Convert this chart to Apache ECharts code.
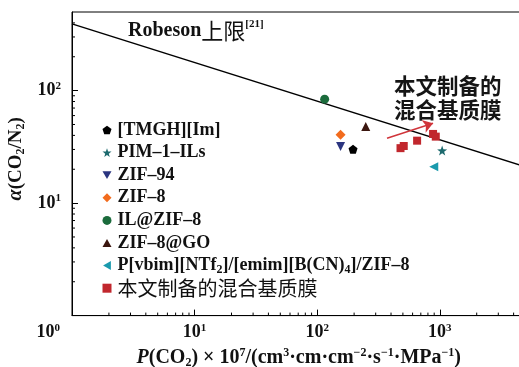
<!DOCTYPE html>
<html>
<head>
<meta charset="utf-8">
<script src="https://cdn.jsdelivr.net/npm/echarts@6/dist/echarts.min.js"></script>
<style>
html,body{margin:0;padding:0;background:#fff;}
#c{width:519px;height:367px;}
</style>
</head>
<body>
<div id="c"></div>
<script>
// ---------- data ----------
var seriesNames = ['[TMGH][Im]', 'PIM–1–ILs', 'ZIF–94', 'ZIF–8', 'IL@ZIF–8', 'ZIF–8@GO', 'P[vbim][NTf2]/[emim][B(CN)4]/ZIF–8', '本文制备的混合基质膜'];
var tmgh = [[196, 30.1]];
var pim = [[1045, 29.3]];
var zif94 = [[155, 31.8]];
var zif8 = [[155, 40.6]];
var ilzif8 = [[115, 84]];
var zif8go = [[249, 47.9]];
var pvbim = [[893, 21.1]];
var thisWork = [[478, 30.8], [508, 32.2], [653, 35.9], [881, 41.2], [927, 39.0]];
var robesonBound = [[1, 392], [5000, 21]];
var arrowFrom = [371, 37.7];
var arrowTo = [881, 51.3];
var xMinorTicks = [2,3,4,5,6,7,8,9,20,30,40,50,60,70,80,90,200,300,400,500,600,700,800,900,2000,3000,4000];
var yMinorTicks = [2,3,4,5,6,7,8,9,20,30,40,50,60,70,80,90,200,300,400];
var xRange = [1, 5000];
var yRange = [1, 500];

// ---------- styles ----------
var SERIF = "'Liberation Serif','Times New Roman',serif";
var CJK = "'Noto Sans CJK SC','Noto Sans CJK JP',sans-serif";
var pentagon = 'path://M0,-10 L9.51,-3.09 L5.88,8.09 L-5.88,8.09 L-9.51,-3.09 Z';
var star = 'path://M0,-10 L2.35,-3.24 L9.51,-3.09 L3.8,1.24 L5.88,8.09 L0,4 L-5.88,8.09 L-3.8,1.24 L-9.51,-3.09 L-2.35,-3.24 Z';
var triDown = 'path://M-10,-8.66 L10,-8.66 L0,8.66 Z';
var triUp = 'path://M-10,8.66 L10,8.66 L0,-8.66 Z';
var triLeft = 'path://M8.66,-10 L8.66,10 L-8.66,0 Z';

var symbols = [pentagon, star, triDown, 'diamond', 'circle', triUp, triLeft, 'rect'];
var colors = ['#000000', '#1d6a6e', '#2b3580', '#f26b1d', '#1b6b3c', '#3b160f', '#1a9aad', '#c1272d'];
var sizes = [9, 10, 9, 10, 9, 9, 9, 8];
var datasets = [tmgh, pim, zif94, zif8, ilzif8, zif8go, pvbim, thisWork];

function sup(v){ return '{b|10}{s|' + v + '}'; }
function expOf(v){ return Math.round(Math.log(v)/Math.LN10); }

var chart = echarts.init(document.getElementById('c'), null, {renderer:'canvas'});

var scatterSeries = seriesNames.map(function(n, i){
  return {
    name: n, type: 'scatter', data: datasets[i], symbol: symbols[i], symbolSize: sizes[i],
    itemStyle: {color: colors[i], opacity: 1}, z: 5
  };
});
scatterSeries[7].markLine = {
  silent: true, symbol: ['none', 'arrow'], symbolSize: 10,
  lineStyle: {color: '#d0343a', width: 1.4, type: 'solid'},
  label: {show: false},
  data: [[{coord: arrowFrom}, {coord: arrowTo}]]
};

var legendData = seriesNames.map(function(n, i){
  return {name: n, icon: symbols[i], itemStyle: {color: colors[i]}};
});

var option = {
  animation: false,
  backgroundColor: '#fff',
  grid: {left: 72, top: 12, width: 453.5, height: 303.6, outerBoundsMode: 'none', containLabel: false,
         show: true, borderColor: '#000', borderWidth: 1, backgroundColor: 'transparent'},
  xAxis: {
    type: 'log', logBase: 10, min: xRange[0], max: xRange[1],
    axisLine: {show: true, onZero: false, lineStyle: {color: '#000', width: 1}},
    axisTick: {show: true, inside: true, length: 6, lineStyle: {color: '#000'}},
    splitLine: {show: false},
    axisLabel: {
      margin: 7, showMaxLabel: false, alignMinLabel: 'right',
      formatter: function(v){ var e = expOf(v); return e === 0 ? '{b|10}{s0|0}' : sup(e); },
      rich: {
        b: {fontFamily: SERIF, fontSize: 18, fontWeight: 'bold', color: '#111', lineHeight: 20},
        s: {fontFamily: SERIF, fontSize: 11, fontWeight: 'bold', color: '#111', verticalAlign: 'top', lineHeight: 20},
        s0: {fontFamily: SERIF, fontSize: 11, fontWeight: 'bold', color: '#111', verticalAlign: 'top', lineHeight: 20, padding: [0, 12, 0, 0]}
      }
    },
    name: '{i|P}{t|(CO}{sub|2}{t|) × 10}{sup|7}{t|/(cm}{sup|3}{t|·cm·cm}{sup|−2}{t|·s}{sup|−1}{t|·MPa}{sup|−1}{t|)}',
    nameLocation: 'middle', nameGap: 24,
    nameTextStyle: {
      rich: {
        i: {fontFamily: SERIF, fontSize: 20, fontStyle: 'italic', fontWeight: 'bold', color: '#111', lineHeight: 22},
        t: {fontFamily: SERIF, fontSize: 20, fontWeight: 'bold', color: '#111', lineHeight: 22},
        sub: {fontFamily: SERIF, fontSize: 12, fontWeight: 'bold', color: '#111', verticalAlign: 'bottom', lineHeight: 22},
        sup: {fontFamily: SERIF, fontSize: 12, fontWeight: 'bold', color: '#111', verticalAlign: 'top', lineHeight: 22}
      }
    }
  },
  yAxis: {
    type: 'log', logBase: 10, min: yRange[0], max: yRange[1],
    axisLine: {show: true, onZero: false, lineStyle: {color: '#000', width: 1}},
    axisTick: {show: true, inside: true, length: 6, lineStyle: {color: '#000'}},
    splitLine: {show: false},
    axisLabel: {
      margin: 11, showMinLabel: false, showMaxLabel: false,
      formatter: function(v){ return sup(expOf(v)); },
      rich: {
        b: {fontFamily: SERIF, fontSize: 18, fontWeight: 'bold', color: '#111', lineHeight: 20},
        s: {fontFamily: SERIF, fontSize: 11, fontWeight: 'bold', color: '#111', verticalAlign: 'top', lineHeight: 20}
      }
    },
    name: '{a|α}{t|(CO}{sub|2}{t|/N}{sub|2}{t|)}',
    nameLocation: 'middle', nameGap: 42,
    nameTextStyle: {
      padding: [0, 0, 0, 10],
      rich: {
        a: {fontFamily: SERIF, fontSize: 20, fontStyle: 'italic', fontWeight: 'bold', color: '#111', lineHeight: 22},
        t: {fontFamily: SERIF, fontSize: 19, fontWeight: 'bold', color: '#111', lineHeight: 22},
        sub: {fontFamily: SERIF, fontSize: 12, fontWeight: 'bold', color: '#111', verticalAlign: 'bottom', lineHeight: 22}
      }
    }
  },
  legend: {
    orient: 'vertical', left: 97.5, top: 115,
    itemWidth: 9, itemHeight: 9, itemGap: 2.6,
    data: legendData,
    formatter: function(n){
      if (n === seriesNames[7]) return '{c|' + n + '}';
      return n.replace('NTf2', 'NTf{sub|2}').replace('(CN)4', '(CN){sub|4}');
    },
    textStyle: {
      fontFamily: SERIF, fontSize: 18, fontWeight: 'bold', color: '#111', lineHeight: 20, padding: [0, 0, 0, 1],
      rich: {
        sub: {fontFamily: SERIF, fontSize: 12, fontWeight: 'bold', color: '#111', verticalAlign: 'bottom', lineHeight: 20},
        c: {fontFamily: CJK, fontSize: 20, fontWeight: 'normal', color: '#111', lineHeight: 20}
      }
    }
  },
  graphic: [
    {
      type: 'text', left: 128, top: 19, silent: true,
      style: {
        text: '{r|Robeson}{c|上限}{s|[21]}',
        rich: {
          r: {fontFamily: SERIF, fontSize: 20, fontWeight: 'bold', fill: '#111', lineHeight: 24},
          c: {fontFamily: CJK, fontSize: 22, fill: '#111', lineHeight: 24},
          s: {fontFamily: SERIF, fontSize: 11, fontWeight: 'bold', fill: '#111', verticalAlign: 'top', lineHeight: 24}
        }
      }
    },
    {
      type: 'text', left: 394, top: 74, silent: true,
      style: {
        text: '本文制备的\n混合基质膜',
        fontFamily: CJK, fontSize: 21.5, fontWeight: 'bold', fill: '#151515', lineHeight: 24
      }
    }
  ],
  series: [
    {
      name: 'Robeson', type: 'line', data: robesonBound, symbol: 'none',
      lineStyle: {color: '#000', width: 1.5}, z: 3, silent: true
    }
  ].concat(scatterSeries).concat([
    {
      type: 'custom', silent: true, z: 4, clip: false,
      data: xMinorTicks.map(function(v){ return [v, yRange[0]]; }),
      encode: {x: 0, y: 1},
      renderItem: function(params, api){
        var p = api.coord([api.value(0), api.value(1)]);
        return {type: 'line', shape: {x1: p[0], y1: p[1], x2: p[0], y2: p[1] - 3}, style: {stroke: '#000', lineWidth: 1}};
      }
    },
    {
      type: 'custom', silent: true, z: 4, clip: false,
      data: yMinorTicks.map(function(v){ return [xRange[0], v]; }),
      encode: {x: 0, y: 1},
      renderItem: function(params, api){
        var p = api.coord([api.value(0), api.value(1)]);
        return {type: 'line', shape: {x1: p[0], y1: p[1], x2: p[0] + 3, y2: p[1]}, style: {stroke: '#000', lineWidth: 1}};
      }
    }
  ])
};
chart.setOption(option);
</script>
</body>
</html>
